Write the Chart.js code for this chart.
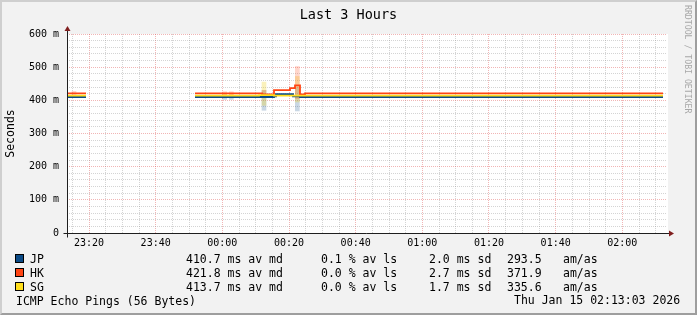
<!DOCTYPE html>
<html>
<head>
<meta charset="utf-8">
<script src="https://cdn.jsdelivr.net/npm/chart.js@4"></script>
<style>
  body { margin: 0; background: #fff; }
  #wrap { position: relative; width: 697px; height: 315px; background: #f2f2f2; overflow: hidden;
          font-family: 'DejaVu Sans Mono', monospace; color: #000; }
  #shade { position: absolute; left: 0; top: 0; width: 697px; height: 315px; box-sizing: border-box;
           border-style: solid; border-width: 2px; border-color: #cfcfcf #9e9e9e #9e9e9e #cfcfcf; pointer-events: none; }
  canvas { position: absolute; left: 0; top: 0; }
  .t { position: absolute; white-space: pre; font-size: 11.5px; line-height: 14px; }
  .box { position: absolute; width: 7px; height: 7px; border: 1px solid #000; }
  #title { position: absolute; left: 0; width: 697px; top: 6px; text-align: center; font-size: 13.5px; line-height: 16px; }
  #mark { position: absolute; left: 683px; top: 5px; writing-mode: vertical-rl; font-size: 8.2px; line-height: 10px; color: #a8a8a8; }
</style>
</head>
<body>
<div id="wrap">
  <canvas id="c" width="697" height="315"></canvas>
  <div id="title">Last 3 Hours</div>
  <div id="mark">RRDTOOL / TOBI OETIKER</div>
  <div id="legend"></div>
  <div class="t" style="left:16px;top:294px">ICMP Echo Pings (56 Bytes)</div>
  <div class="t" style="left:514px;top:293px">Thu Jan 15 02:13:03 2026</div>
  <div id="shade"></div>
</div>
<script>
// x values are minutes after 23:00
const xMin = 13.4;
const xMax = 193.4;

const hosts = ['JP', 'HK', 'SG'];
const colors = ['#0b4a86', '#ff4514', '#ffde1c'];

// each value holds until the next time
const jpTimes = [13.4, 19.1, 30, 51.8, 75.5, 76.1, 81.2, 83.3, 192.2];
const jpValues = [410, 410, null, 410, 412, 419, 412, 410, 410];

const hkTimes = [13.4, 19.1, 30, 51.8, 71.9, 75.5, 80.3, 81.8, 83.3, 84.8, 192.2];
const hkValues = [421, 421, null, 421, 418, 431, 437, 445, 418, 421, 421];

const sgTimes = [13.4, 19.1, 30, 51.8, 71.0, 75.5, 192.2];
const sgValues = [414, 414, null, 414, 416, 414, 414];

// smoke (spread of ping times)
const smokeTimes = [15.5, 60.7, 62.7, 72.5, 82.5];
const hkSmokeLow = [414, 417, 417, 412, 405];
const hkSmokeHigh = [427, 426, 426, 430, 502];
const sgSmokeLow = [null, 410, 410, 385, 395];
const sgSmokeHigh = [null, 418, 418, 455, 472];
const jpSmokeLow = [null, 403, 403, 370, 368];
const jpSmokeHigh = [null, 412, 412, 430, 440];

// legend stats
const medians = ['410.7', '421.8', '413.7'];
const losses = ['0.1', '0.0', '0.0'];
const stdDevs = ['2.0', '2.7', '1.7'];
const amas = ['293.5', '371.9', '335.6'];

const xTicks = [];
for (let m = 15; m <= 190; m += 5) xTicks.push(m);
const yTicks = [];
for (let v = 0; v <= 600; v += 20) yTicks.push(v);

const GRID = 'rgba(143,143,143,0.38)';
const MGRID = 'rgba(222,79,79,0.42)';

const pts = (times, vals) => times.map((t, i) => ({ x: t, y: vals[i] }));
const smoke = (lo, hi) => smokeTimes.map((t, i) => ({ x: t, y: lo[i] == null ? null : [lo[i], hi[i]] }));

const fmtTime = (m) => {
  const h = (23 + Math.floor(m / 60)) % 24;
  const mm = m % 60;
  return String(h).padStart(2, '0') + ':' + String(mm).padStart(2, '0');
};

// legend rows
const legend = document.getElementById('legend');
hosts.forEach((h, i) => {
  const cy = 259 + i * 14;
  legend.insertAdjacentHTML('beforeend',
    `<div class="box" style="left:15px;top:${cy - 5}px;background:${colors[i]}"></div>` +
    `<div class="t" style="left:30px;top:${cy - 7}px">${h}</div>` +
    `<div class="t" style="left:186px;top:${cy - 7}px">${medians[i]} ms av md</div>` +
    `<div class="t" style="left:321px;top:${cy - 7}px">${losses[i]} % av ls</div>` +
    `<div class="t" style="left:429px;top:${cy - 7}px">${stdDevs[i]} ms sd</div>` +
    `<div class="t" style="left:507px;top:${cy - 7}px">${amas[i]}</div>` +
    `<div class="t" style="left:563px;top:${cy - 7}px">am/as</div>`);
});

const frame = {
  id: 'frame',
  beforeDraw(chart) {
    const { ctx, chartArea: a } = chart;
    ctx.save();
    ctx.fillStyle = '#ffffff';
    ctx.fillRect(a.left, a.top, a.right - a.left + 1, a.bottom - a.top);
    ctx.restore();
  },
  afterDatasetsDraw(chart) {
    const { ctx, chartArea: a } = chart;
    const x0 = Math.round(a.left) + 0.5;
    const y0 = Math.round(a.bottom) + 0.5;
    ctx.save();
    ctx.strokeStyle = '#1f1f1f';
    ctx.lineWidth = 1;
    ctx.beginPath();
    ctx.moveTo(x0 - 4, y0); ctx.lineTo(a.right + 2, y0);
    ctx.moveTo(x0, y0 + 4); ctx.lineTo(x0, a.top - 3);
    ctx.stroke();
    ctx.fillStyle = '#801f1f';
    ctx.beginPath();
    ctx.moveTo(a.right + 2, y0 - 3); ctx.lineTo(a.right + 7, y0); ctx.lineTo(a.right + 2, y0 + 3);
    ctx.closePath(); ctx.fill();
    ctx.beginPath();
    ctx.moveTo(x0 - 3, a.top - 3); ctx.lineTo(x0, a.top - 8); ctx.lineTo(x0 + 3, a.top - 3);
    ctx.closePath(); ctx.fill();
    ctx.restore();
  }
};

const lineSet = (label, data, color, order) => ({
  type: 'line', label, data, borderColor: color, borderWidth: 1.8,
  pointRadius: 0, stepped: 'before', spanGaps: false, fill: false, order
});
const smokeSet = (label, data, color) => ({
  type: 'bar', label, data, backgroundColor: color, borderWidth: 0,
  barThickness: 4, grouped: false, order: 10
});

new Chart(document.getElementById('c'), {
  type: 'line',
  data: {
    datasets: [
      smokeSet('HK smoke', smoke(hkSmokeLow, hkSmokeHigh), 'rgba(255,69,20,0.22)'),
      smokeSet('SG smoke', smoke(sgSmokeLow, sgSmokeHigh), 'rgba(240,210,30,0.3)'),
      smokeSet('JP smoke', smoke(jpSmokeLow, jpSmokeHigh), 'rgba(11,74,134,0.22)'),
      lineSet('HK', pts(hkTimes, hkValues), colors[1], 3),
      lineSet('JP', pts(jpTimes, jpValues), colors[0], 2),
      lineSet('SG', pts(sgTimes, sgValues), colors[2], 1),
    ],
  },
  options: {
    responsive: false,
    animation: false,
    layout: { padding: { left: 0, top: 34, right: 30, bottom: 62 } },
    plugins: { legend: { display: false }, tooltip: { enabled: false }, title: { display: false } },
    scales: {
      x: {
        type: 'linear', min: xMin, max: xMax, offset: false,
        afterBuildTicks: (s) => { s.ticks = xTicks.map((v) => ({ value: v })); },
        afterFit: (s) => { s.height = 20; },
        ticks: {
          autoSkip: false, maxRotation: 0, padding: 4, color: '#000',
          font: { family: 'DejaVu Sans Mono', size: 10 },
          callback: (v) => (v % 20 === 0 ? fmtTime(v) : ''),
        },
        grid: {
          offset: false, drawTicks: false, lineWidth: 1,
          color: (c) => (c.tick && c.tick.value % 20 === 0 ? MGRID : GRID),
        },
        border: { display: false, dash: [1, 1] },
      },
      y: {
        min: 0, max: 600,
        afterBuildTicks: (s) => { s.ticks = yTicks.map((v) => ({ value: v })); },
        afterFit: (s) => { s.width = 67; },
        ticks: {
          autoSkip: false, padding: 8, color: '#000',
          font: { family: 'DejaVu Sans Mono', size: 10 },
          callback: (v) => (v % 100 === 0 ? (v === 0 ? '0' : v + ' m') : ''),
        },
        grid: {
          drawTicks: false, lineWidth: 1,
          color: (c) => (c.tick && c.tick.value % 100 === 0 ? MGRID : GRID),
        },
        border: { display: false, dash: [1, 1] },
        title: {
          display: true, text: 'Seconds', color: '#000',
          font: { family: 'DejaVu Sans Mono', size: 11.5 },
          padding: { top: 4, bottom: 0 },
        },
      },
    },
  },
  plugins: [frame],
});
</script>
</body>
</html>
